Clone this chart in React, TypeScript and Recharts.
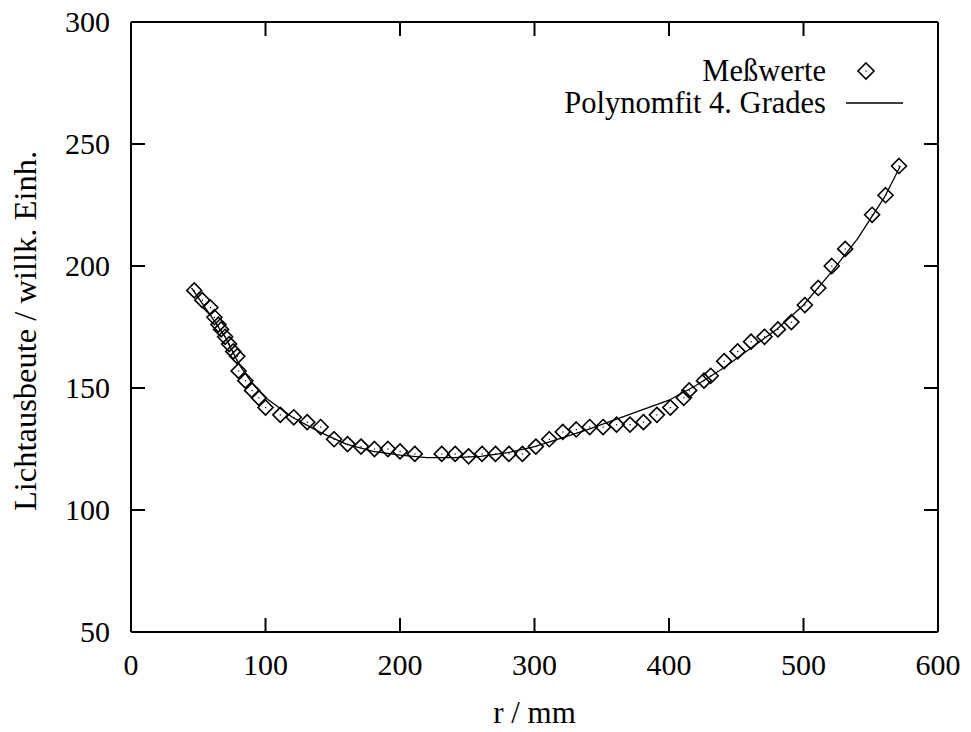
import {
  ComposedChart,
  Scatter,
  Line,
  XAxis,
  YAxis,
} from "recharts";

// Meßwerte (r in mm, Lichtausbeute in willk. Einh.)
const radius = [
  47, 53, 59, 62, 65, 67, 70, 73, 76, 79, 80, 85, 90, 95, 100, 111, 121, 131, 141, 151,
  161, 171, 181, 191, 200, 211, 231, 241, 251, 261, 271, 281, 291, 301, 311, 321, 331, 341,
  351, 361, 371, 381, 391, 401, 411, 415, 426, 431, 441, 451, 461, 471, 481, 491, 501, 511,
  521, 531, 551, 561, 571,
];
const yieldValues = [
  190, 186, 183, 179, 176, 174, 171, 168, 165, 163, 157, 153, 149, 146, 142, 139, 138, 136, 134, 129,
  127, 126, 125, 125, 124, 123, 123, 123, 122, 123, 123, 123, 123, 126, 129, 132, 133, 134,
  134, 135, 135, 136, 139, 142, 146, 149, 153, 155, 161, 165, 169, 171, 174, 177, 184, 191,
  200, 207, 221, 229, 241,
];

// Polynomfit 4. Grades
const fitRadius = [
  45, 50, 60, 70, 80, 90, 100, 120, 140, 160, 180, 200, 220, 240, 260, 280, 300, 320, 340,
  360, 380, 400, 420, 440, 460, 480, 500, 520, 540, 560, 572,
];
const fitValues = [
  191, 187, 179, 171, 160, 152, 146, 138, 132, 127, 124, 122.5, 121.5, 121.5, 122, 123.5, 126,
  129.5, 133, 137, 141, 145, 151, 158, 166, 174, 184, 197, 211, 228, 241,
];

const xTicks = [0, 100, 200, 300, 400, 500, 600];
const yTicks = [50, 100, 150, 200, 250, 300];

const FONT = "'Liberation Serif', 'DejaVu Serif', serif";
const FS = 30; // tick labels
const FS_TEXT = 31; // x label
const FS_LEGEND = 30.5;
const FS_YLABEL = 32.5;
const TICK_LEN = 14;

const measured = radius.map((r, i) => ({ r, v: yieldValues[i] }));
const fit = fitRadius.map((r, i) => ({ r, fit: fitValues[i] }));

function Diamond(props: any) {
  const { cx, cy } = props;
  if (cx == null || cy == null) return null;
  const s = 7.5;
  return (
    <g>
      <path
        d={`M${cx},${cy - s}L${cx + s},${cy}L${cx},${cy + s}L${cx - s},${cy}Z`}
        fill="none"
        stroke="#000"
        strokeWidth={1.6}
      />
      <rect x={cx - 0.5} y={cy - 0.5} width={1.2} height={1.2} fill="#000" />
    </g>
  );
}

function BottomTick(props: any) {
  const { x, y, payload } = props;
  return (
    <g>
      <line x1={x} x2={x} y1={y} y2={y - TICK_LEN} stroke="#000" strokeWidth={2} />
      <text x={x} y={y + 43} textAnchor="middle" fontFamily={FONT} fontSize={FS} fill="#000">
        {payload.value}
      </text>
    </g>
  );
}

function TopTick(props: any) {
  const { x, y } = props;
  return <line x1={x} x2={x} y1={y} y2={y + TICK_LEN} stroke="#000" strokeWidth={2} />;
}

function LeftTick(props: any) {
  const { x, y, payload } = props;
  return (
    <g>
      <line x1={x} x2={x + TICK_LEN} y1={y} y2={y} stroke="#000" strokeWidth={2} />
      <text x={x - 21} y={y + 10} textAnchor="end" fontFamily={FONT} fontSize={FS} fill="#000">
        {payload.value}
      </text>
    </g>
  );
}

function RightTick(props: any) {
  const { x, y } = props;
  return <line x1={x} x2={x - TICK_LEN} y1={y} y2={y} stroke="#000" strokeWidth={2} />;
}

function LegendBox() {
  const row = { display: "flex", alignItems: "center", justifyContent: "flex-end", height: 32 };
  return (
    <div
      style={{
        position: "absolute",
        top: 55,
        right: 67,
        fontFamily: FONT,
        fontSize: FS_LEGEND,
        color: "#000",
        lineHeight: "32px",
      }}
    >
      <div style={row}>
        <span>Meßwerte</span>
        <svg width={78} height={32}>
          <path d="M40,8L48,16L40,24L32,16Z" fill="none" stroke="#000" strokeWidth={1.6} />
          <rect x={39.5} y={15.5} width={1.2} height={1.2} fill="#000" />
        </svg>
      </div>
      <div style={row}>
        <span>Polynomfit 4. Grades</span>
        <svg width={78} height={32}>
          <line x1={20} x2={77} y1={16} y2={16} stroke="#000" strokeWidth={1.3} />
        </svg>
      </div>
    </div>
  );
}

export default function App() {
  const axisLine = { stroke: "#000", strokeWidth: 2 };
  return (
    <div style={{ position: "absolute", left: 0, top: 0, width: 971, height: 732, background: "#fff" }}>
      <ComposedChart width={971} height={732} margin={{ top: 21, right: 32, bottom: 0, left: 0 }}>
        <XAxis
          xAxisId="b"
          dataKey="r"
          type="number"
          domain={[0, 600]}
          ticks={xTicks}
          orientation="bottom"
          height={100}
          tickSize={0}
          tickMargin={0}
          axisLine={axisLine}
          tickLine={false}
          tick={<BottomTick />}
          allowDataOverflow
          label={{
            value: "r / mm",
            position: "insideBottom",
            offset: 9,
            style: { fontFamily: FONT, fontSize: FS_TEXT, fill: "#000" },
          }}
        />
        <XAxis
          xAxisId="t"
          dataKey="r"
          type="number"
          domain={[0, 600]}
          ticks={xTicks}
          orientation="top"
          height={1}
          tickSize={0}
          tickMargin={0}
          axisLine={axisLine}
          tickLine={false}
          tick={<TopTick />}
          allowDataOverflow
        />
        <YAxis
          yAxisId="l"
          type="number"
          domain={[50, 300]}
          ticks={yTicks}
          orientation="left"
          width={131}
          tickSize={0}
          tickMargin={0}
          axisLine={axisLine}
          tickLine={false}
          tick={<LeftTick />}
          allowDataOverflow
          label={{
            value: "Lichtausbeute / willk. Einh.",
            angle: -90,
            position: "insideLeft",
            offset: 24,
            dy: 4,
            style: { textAnchor: "middle", fontFamily: FONT, fontSize: FS_YLABEL, fill: "#000" },
          }}
        />
        <YAxis
          yAxisId="r"
          type="number"
          domain={[50, 300]}
          ticks={yTicks}
          orientation="right"
          width={1}
          tickSize={0}
          tickMargin={0}
          axisLine={axisLine}
          tickLine={false}
          tick={<RightTick />}
          allowDataOverflow
        />
        <Line
          xAxisId="b"
          yAxisId="l"
          data={fit}
          dataKey="fit"
          type="linear"
          stroke="#000"
          strokeWidth={1.3}
          dot={false}
          activeDot={false}
          isAnimationActive={false}
          name="Polynomfit 4. Grades"
        />
        <Scatter
          xAxisId="t"
          yAxisId="r"
          data={[]}
          dataKey="v"
          isAnimationActive={false}
          legendType="none"
        />
        <Scatter
          xAxisId="b"
          yAxisId="l"
          data={measured}
          dataKey="v"
          shape={<Diamond />}
          isAnimationActive={false}
          name="Meßwerte"
        />
      </ComposedChart>
      <LegendBox />
    </div>
  );
}
